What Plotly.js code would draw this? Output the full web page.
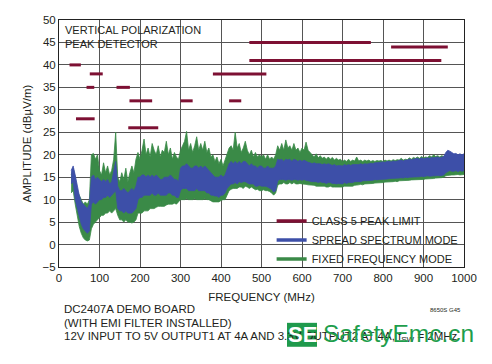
<!DOCTYPE html>
<html>
<head>
<meta charset="utf-8">
<script src="https://cdn.plot.ly/plotly-3.0.1.min.js"></script>
<style>html,body{margin:0;padding:0;background:#fff}#chart{width:492px;height:364px}</style>
</head>
<body>
<div id="chart"></div>
<script>
// Frequency grid (MHz)
const freq = [30,35,40,45,50,55,60,65,70,75,
80,85,90,95,100,105,110,115,120,125,
130,135,140,145,150,155,160,165,170,175,
180,185,190,195,200,205,210,215,220,225,
230,235,240,245,250,255,260,265,270,275,
280,285,290,295,300,305,310,315,320,325,
330,335,340,345,350,355,360,365,370,375,
380,385,390,395,400,405,410,415,420,425,
430,435,440,445,450,455,460,465,470,475,
480,485,490,495,500,505,510,515,520,525,
530,535,540,545,550,555,560,565,570,575,
580,585,590,595,600,605,610,615,620,625,
630,635,640,645,650,655,660,665,670,675,
680,685,690,695,700,705,710,715,720,725,
730,735,740,745,750,755,760,765,770,775,
780,785,790,795,800,805,810,815,820,825,
830,835,840,845,850,855,860,865,870,875,
880,885,890,895,900,905,910,915,920,925,
930,935,940,945,950,955,960,965,970,975,
980,985,990,995,1000];

// Fixed frequency mode: lower and upper envelope (dBµV/m)
const fixedLow = [11.5,12,9,6,4,2.5,1.5,1,0.8,1,
3.5,4.5,5,5.5,6,6.5,6.5,7,7,7.5,
7,7.5,8,6.5,5.5,5.5,5,5.5,5,5,
4.8,5,5.5,7,7,7,7.5,7.5,7.5,8,
8,8,8.3,8.5,8.5,8.5,8.5,8.8,9,9,
9,9.2,9,9.5,10,10,10,10.2,10,10,
10,10.2,10,10,10,10,10.2,10,10,9.8,
9.5,9.5,9.5,9.5,9.8,10,10,11,12,12.3,
12.5,12.5,12.5,12.8,12.8,12.5,13,12.8,12.5,12.8,
12.5,12.2,12.3,12,12,12.2,12,12,11.8,11.5,
11,11.5,13.2,13.5,13.5,13.8,13.5,13.5,13.8,13.5,
13.8,13.5,13.5,13.6,13.5,13.5,13.4,13.3,13.3,13.2,
13.2,13,13,13,13,13,12.8,12.8,13,12.8,
12.8,12.8,12.8,12.7,12.8,13,13,13,13.1,13,
13.2,13.2,13.3,13.4,13.3,13.5,13.5,13.5,13.6,13.6,
13.7,13.7,13.8,13.8,13.8,13.9,13.9,14,14,14,
14.1,14,14.2,14.2,14.2,14.3,14.3,14.3,14.4,14.4,
14.5,14.4,14.5,14.5,14.5,14.6,14.6,14.6,14.7,14.7,
14.8,14.8,14.8,14.9,15,15.3,15.4,15.5,15.5,15.5,
15.6,15.6,15.5,15.5,15.6];
const fixedHigh = [15.5,17,15,12,11,10,9,9.5,9,10,
20,20.3,19,20,16.5,15.5,18.2,16,17.5,15.5,
16.5,19,25,15,14,16,14.5,17,14,16,
17.5,16,19,20.5,19,21,23.5,20,21.5,19.5,
22.5,21,20,22,19.5,21,20.5,23,20,21.5,
19,20.5,19.5,19,21,22,23,25.2,21,22.5,
20.5,22,24,21,22.5,21,23,20.5,21.5,19.5,
20,18.5,19.5,18,19,17.5,19,20,21.5,22,
21,25,21.5,22.5,20.5,21.5,23,21,20,21,
19.5,20.5,19.5,20,19.5,20,19,20,19,19.5,
19,20,22,21,22.5,21,23.3,21.5,22,21,
22.5,21,21.5,20.5,21.5,21,22.8,21,20.5,20,
19.5,20.2,19.3,19.8,19.2,19.5,19,19.5,19,19.4,
18.8,19.2,18.8,19,18.5,18.8,18.5,19,18.5,18.8,
18.6,19.5,18.6,18.8,18.5,18.8,18.6,18.8,18.5,18.7,
18.5,18.7,18.6,18.7,18.5,18.8,18.6,18.8,18.6,18.9,
18.7,18.9,18.8,19.2,18.8,19,18.9,19.3,19,19.4,
19.2,19.5,19.2,19.6,19.3,19.5,19.4,19.8,19.5,20,
19.6,19.8,19.5,19.8,19.6,20,20.5,20.2,20,19.8,
19.8,19.6,19.8,19.5,19.8];

// Spread spectrum mode: lower and upper envelope (dBµV/m)
const spreadLow = [13.5,14,10,8,6,4.5,3.5,3,2.5,3,
9,9.5,9,9.5,10,10,10.5,10.5,11,10.5,
11,11.5,12,8,7.5,7.5,7,7.5,7,7,
7,7.5,8,10,10.5,10.5,11,11,11,11,
11.5,11,11,11.5,11,11,11,11,11.5,11.5,
11,11,10.5,10.5,12,12.5,12.5,12.5,12,12,
12,12,12.5,12,12,12,12,11.5,11.5,11,
11,10.8,10.8,10.5,11,11,11.5,12.5,13,13.5,
13.5,13.8,13.5,14,13.8,14,14,13.8,13.5,13.5,
13.5,13,13,13.2,13,13,13,12.8,12.5,12.3,
11.7,12,14.2,14.5,14.5,14.5,14.3,14.5,14.5,14.3,
14.5,14.5,14.3,14.5,14.3,14.5,14.3,14.2,14,14,
14,14,13.8,14,13.8,13.8,13.6,13.8,13.8,13.6,
13.6,13.5,13.6,13.5,13.5,13.8,13.6,13.8,13.8,13.8,
14,14,14,14,14.2,14.2,14.2,14.3,14.3,14.3,
14.5,14.4,14.5,14.5,14.5,14.6,14.6,14.7,14.7,14.8,
14.7,14.8,14.8,14.9,14.8,15,14.9,15,15,15,
15.1,15,15.1,15.2,15.1,15.2,15.3,15.2,15.3,15.3,
15.3,15.4,15.3,15.4,15.5,16,16.3,16.5,16.3,16.3,
16.5,16.2,16.5,16.3,16.5];
const spreadHigh = [16.5,17.5,15.5,13,11,9.5,9,8.5,8,9,
15,15.5,14.5,15,14.5,14,14.5,14,14.5,13.5,
14,16.5,18.5,13,12,12,12.5,12,11.5,12,
12.5,12,13,15,15,15.5,15.5,15,15.5,15,
15.5,15,15.5,15,14.5,14.5,15,15,15,15.5,
15,14.5,14.5,14,17,17.5,17.5,18,17.5,17,
17,17.5,17.5,17,17.5,17,17.5,17,16.5,16,
15.5,15,15,15,15.5,15,15.5,17,18,18.5,
18,18.5,18,18.5,18,18.5,18.5,18,17.5,18,
17.5,17.5,17,17.5,17.5,17,17,17.5,17,17,
17,17.5,19,18.8,19,18.5,19,18.8,19,18.5,
19,18.8,18.5,18.8,18.5,18.8,18.5,18.3,18.2,18,
18.2,18,18,18,17.8,18,17.8,18,17.8,17.6,
17.8,17.5,17.6,17.5,17.5,17.8,17.6,17.8,17.6,17.8,
17.8,17.9,17.8,18,17.8,18,17.9,18,18.1,18,
18.2,18.2,18.3,18.3,18.4,18.3,18.5,18.5,18.4,18.6,
18.5,18.6,18.7,18.8,18.6,18.8,18.8,19,18.9,19,
19.1,19.2,19,19.3,19.1,19.2,19.3,19.2,19.4,19.3,
19.4,19.5,19.3,19.5,19.6,20.5,21,20.8,20.5,20.2,
20.3,20,20.2,20,20.2];

// CISPR 25 Class 5 peak limit segments
const limitStart = [26, 42, 76, 68, 142, 174, 171, 300, 380, 420, 470, 470, 820];
const limitEnd   = [54, 88, 108, 87, 175, 230, 245, 330, 512, 450, 770, 944, 960];
const limitLevel = [40, 28, 38, 35, 35, 32, 26, 32, 38, 32, 45, 41, 44];

const seriesNames = ['CLASS 5 PEAK LIMIT', 'SPREAD SPECTRUM MODE', 'FIXED FREQUENCY MODE'];

const C_LIMIT = '#7d1033', C_BLUE = '#3d4fa8', C_GREEN = '#3a8a47';
const FONT = '"Liberation Sans", Arial, sans-serif';
const FS = 11.5;
const TXT = '#231f20';

const limX = [], limY = [];
for (let i = 0; i < limitStart.length; i++) {
  limX.push(limitStart[i], limitEnd[i], null);
  limY.push(limitLevel[i], limitLevel[i], null);
}

const data = [
  {x: freq, y: fixedLow, type: 'scatter', mode: 'lines', line: {color: C_GREEN, width: 0.8}, showlegend: false, hoverinfo: 'skip'},
  {x: freq, y: fixedHigh, type: 'scatter', mode: 'lines', fill: 'tonexty', fillcolor: C_GREEN, line: {color: C_GREEN, width: 0.8}, showlegend: false, hoverinfo: 'skip'},
  {x: freq, y: spreadLow, type: 'scatter', mode: 'lines', line: {color: C_BLUE, width: 0.8}, showlegend: false, hoverinfo: 'skip'},
  {x: freq, y: spreadHigh, type: 'scatter', mode: 'lines', fill: 'tonexty', fillcolor: C_BLUE, line: {color: C_BLUE, width: 0.8}, showlegend: false, hoverinfo: 'skip'},
  {x: limX, y: limY, type: 'scatter', mode: 'lines', line: {color: C_LIMIT, width: 3}, showlegend: false, connectgaps: false},
  {x: [null], y: [null], type: 'scatter', mode: 'lines', name: seriesNames[0], line: {color: C_LIMIT, width: 3.5}},
  {x: [null], y: [null], type: 'scatter', mode: 'lines', name: seriesNames[1], line: {color: C_BLUE, width: 3.5}},
  {x: [null], y: [null], type: 'scatter', mode: 'lines', name: seriesNames[2], line: {color: C_GREEN, width: 3.5}}
];

const layout = {
  width: 492, height: 364,
  margin: {l: 59, r: 28, t: 20, b: 97},
  paper_bgcolor: '#fff', plot_bgcolor: '#fff',
  font: {family: FONT, size: FS, color: TXT},
  showlegend: true,
  legend: {x: 0.525, y: 0.245, xanchor: 'left', yanchor: 'top', bgcolor: 'rgba(0,0,0,0)', borderwidth: 0,
           traceorder: 'normal', font: {family: FONT, size: 11, color: TXT}, tracegroupgap: 0, itemwidth: 30},
  xaxis: {range: [0, 1000], dtick: 100, tick0: 0, showgrid: true, gridcolor: '#555', gridwidth: 1,
          zeroline: false, showline: true, mirror: true, linecolor: '#222', linewidth: 1, ticks: '',
          tickfont: {family: FONT, size: FS, color: TXT},
          title: {text: 'FREQUENCY (MHz)', font: {family: FONT, size: FS, color: TXT}, standoff: 10}},
  yaxis: {range: [-5, 50], dtick: 5, tick0: 0, showgrid: true, gridcolor: '#555', gridwidth: 1,
          zeroline: false, showline: true, mirror: true, linecolor: '#222', linewidth: 1, ticks: '',
          tickfont: {family: FONT, size: FS, color: TXT},
          title: {text: 'AMPLITUDE (dBµV/m)', font: {family: FONT, size: FS, color: TXT}, standoff: 8}},
  shapes: [
    {type: 'rect', xref: 'paper', yref: 'paper', x0: 0.002, x1: 0.356, y0: 0.929, y1: 0.998, fillcolor: '#fff', line: {width: 0}, layer: 'below'},
    {type: 'rect', xref: 'paper', yref: 'paper', x0: 0.002, x1: 0.242, y0: 0.857, y1: 0.93, fillcolor: '#fff', line: {width: 0}, layer: 'below'},
    {type: 'rect', xref: 'paper', yref: 'paper', x0: 0.521, x1: 0.995, y0: 0.006, y1: 0.21, fillcolor: '#fff', line: {width: 0}, layer: 'below'},
    {type: 'rect', xref: 'paper', yref: 'paper', x0: 0.563, x1: 0.637, y0: -0.323, y1: -0.226, fillcolor: '#1f9a4c', line: {width: 0}, layer: 'above'}
  ],
  annotations: [
    {text: 'VERTICAL POLARIZATION', xref: 'paper', yref: 'paper', x: 0.01, y: 0.958, xanchor: 'left', yanchor: 'middle', showarrow: false, font: {family: FONT, size: 11, color: TXT}},
    {text: 'PEAK DETECTOR', xref: 'paper', yref: 'paper', x: 0.01, y: 0.901, xanchor: 'left', yanchor: 'middle', showarrow: false, font: {family: FONT, size: 11, color: TXT}},
    {text: 'DC2407A DEMO BOARD', xref: 'paper', yref: 'paper', x: 0.0067, y: -0.170, xanchor: 'left', yanchor: 'middle', showarrow: false, font: {family: FONT, size: FS, color: TXT}},
    {text: '(WITH EMI FILTER INSTALLED)', xref: 'paper', yref: 'paper', x: 0.0067, y: -0.226, xanchor: 'left', yanchor: 'middle', showarrow: false, font: {family: FONT, size: FS, color: TXT}},
    {text: '12V INPUT TO 5V OUTPUT1 AT 4A AND 3.3V OUTPUT2 AT 4A, f<sub>SW</sub> = 2MHz', xref: 'paper', yref: 'paper', x: 0.0067, y: -0.283, xanchor: 'left', yanchor: 'middle', showarrow: false, font: {family: FONT, size: FS, color: TXT}},
    {text: '8650S G45', xref: 'paper', yref: 'paper', x: 0.9975, y: -0.174, xanchor: 'right', yanchor: 'middle', showarrow: false, font: {family: FONT, size: 6, color: TXT}},
    {text: '<b>SE</b>', xref: 'paper', yref: 'paper', x: 0.600, y: -0.2745, xanchor: 'center', yanchor: 'middle', showarrow: false, font: {family: FONT, size: 22, color: '#fff'}},
    {text: 'SafetyEmc.cn', xref: 'paper', yref: 'paper', x: 0.647, y: -0.2707, xanchor: 'left', yanchor: 'middle', showarrow: false, font: {family: FONT, size: 24.5, color: '#1e9e4c'}}
  ]
};

Plotly.newPlot('chart', data, layout, {staticPlot: true, displayModeBar: false});
</script>
</body>
</html>
